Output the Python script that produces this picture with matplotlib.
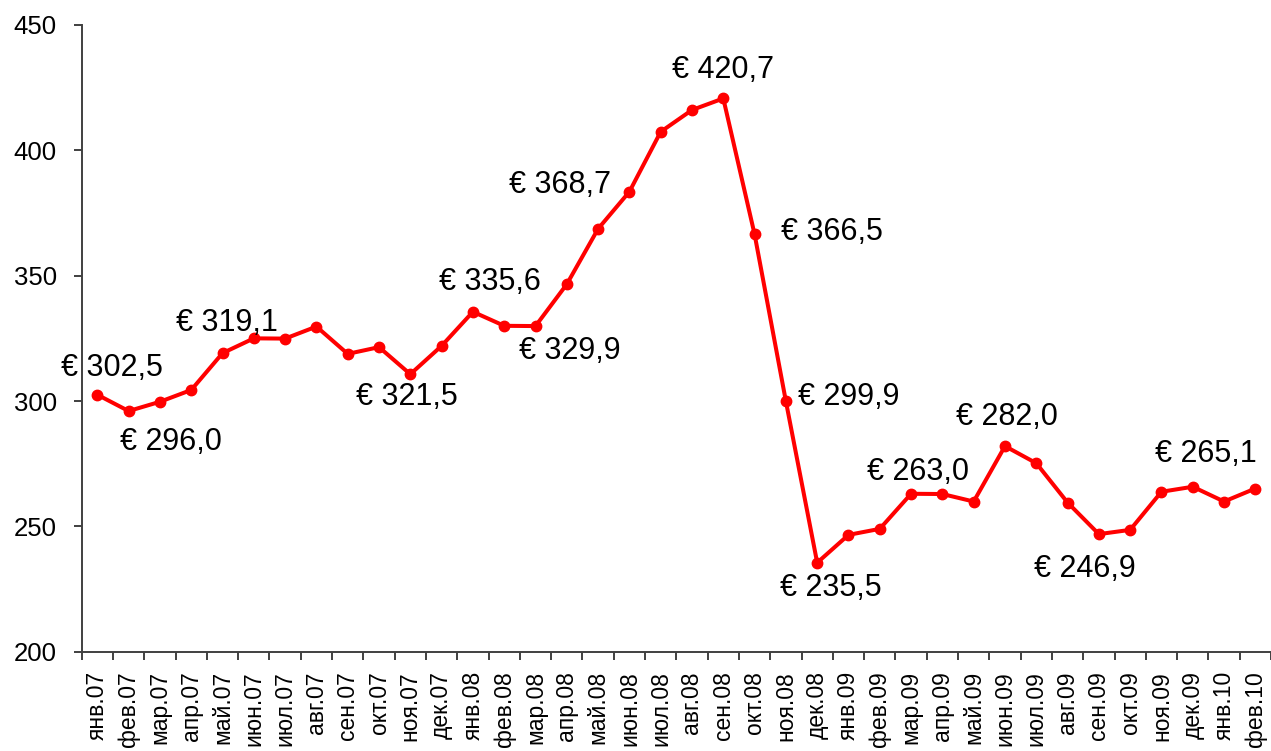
import numpy as np
import matplotlib
matplotlib.use('Agg')
import matplotlib.pyplot as plt
from matplotlib.ticker import FixedLocator

plt.rcParams['font.family'] = ['Liberation Sans', 'DejaVu Sans']

# mesi (etichette asse x)
mesi = ['янв.07', 'фев.07', 'мар.07', 'апр.07', 'май.07', 'июн.07', 'июл.07', 'авг.07',
        'сен.07', 'окт.07', 'ноя.07', 'дек.07',
        'янв.08', 'фев.08', 'мар.08', 'апр.08', 'май.08', 'июн.08', 'июл.08', 'авг.08',
        'сен.08', 'окт.08', 'ноя.08', 'дек.08',
        'янв.09', 'фев.09', 'мар.09', 'апр.09', 'май.09', 'июн.09', 'июл.09', 'авг.09',
        'сен.09', 'окт.09', 'ноя.09', 'дек.09',
        'янв.10', 'фев.10']

# valori
valori = [302.5, 296.0, 299.7, 304.4, 319.1, 325.0, 324.9, 329.7, 318.8, 321.5, 310.7, 322.0,
          335.6, 330.0, 329.9, 346.6, 368.7, 383.5, 407.4, 416.1, 420.7, 366.5, 299.9, 235.5,
          246.6, 249.0, 263.0, 262.9, 259.9, 282.0, 275.2, 259.5, 246.9, 248.6, 263.8, 265.8,
          259.9, 265.1]

# punti con etichetta e testo
idx_etichette = [0, 1, 4, 9, 12, 14, 16, 20, 21, 22, 23, 26, 29, 32, 37]
testi_etichette = ['€ 302,5', '€ 296,0', '€ 319,1', '€ 321,5', '€ 335,6', '€ 329,9', '€ 368,7',
                   '€ 420,7', '€ 366,5', '€ 299,9', '€ 235,5', '€ 263,0', '€ 282,0', '€ 246,9',
                   '€ 265,1']
# spostamento in pixel rispetto al punto
offset_etichette = [(15, 27), (42, -31), (4, 30), (28, -50), (17, 30), (34, -25), (-38, 44),
                    (0, 28), (77, 2), (63, 4), (14, -25), (7, 22), (2, 29), (-14, -35),
                    (-49, 35)]

x = np.arange(len(mesi))

fig = plt.figure(figsize=(12.71, 7.51), dpi=100)
ax = fig.add_axes([81.7 / 1271, 1 - 651.7 / 751, 1 - 81.7 / 1271, (651.7 - 25) / 751])

ax.plot(x, valori, color='#ff0000', linewidth=2.9, marker='o', markersize=7.5, zorder=3)

for i, t, (dx, dy) in zip(idx_etichette, testi_etichette, offset_etichette):
    ax.annotate(t, xy=(x[i], valori[i]), xytext=(dx, dy), textcoords='offset pixels',
                ha='center', va='center', fontsize=22, color='black')

ax.set_xlim(-0.5, len(mesi) - 0.5)
ax.set_ylim(200, 450)
ax.set_yticks([200, 250, 300, 350, 400, 450])

# etichette al centro, tacche ai bordi delle categorie
ax.set_xticks(x)
ax.set_xticklabels(mesi, rotation=90, va='top', ha='center')
ax.xaxis.set_minor_locator(FixedLocator(np.arange(-0.5, len(mesi), 1)))
ax.tick_params(axis='x', which='major', length=0, pad=14, labelsize=16.5)
ax.tick_params(axis='x', which='minor', length=6, width=1.4, color='#404040')
ax.tick_params(axis='y', length=6, width=1.4, color='#404040', pad=12, labelsize=18.5)

for s in ['top', 'right']:
    ax.spines[s].set_visible(False)
for s in ['left', 'bottom']:
    ax.spines[s].set_color('#404040')
    ax.spines[s].set_linewidth(1.4)

plt.savefig('out.png', dpi=100)
